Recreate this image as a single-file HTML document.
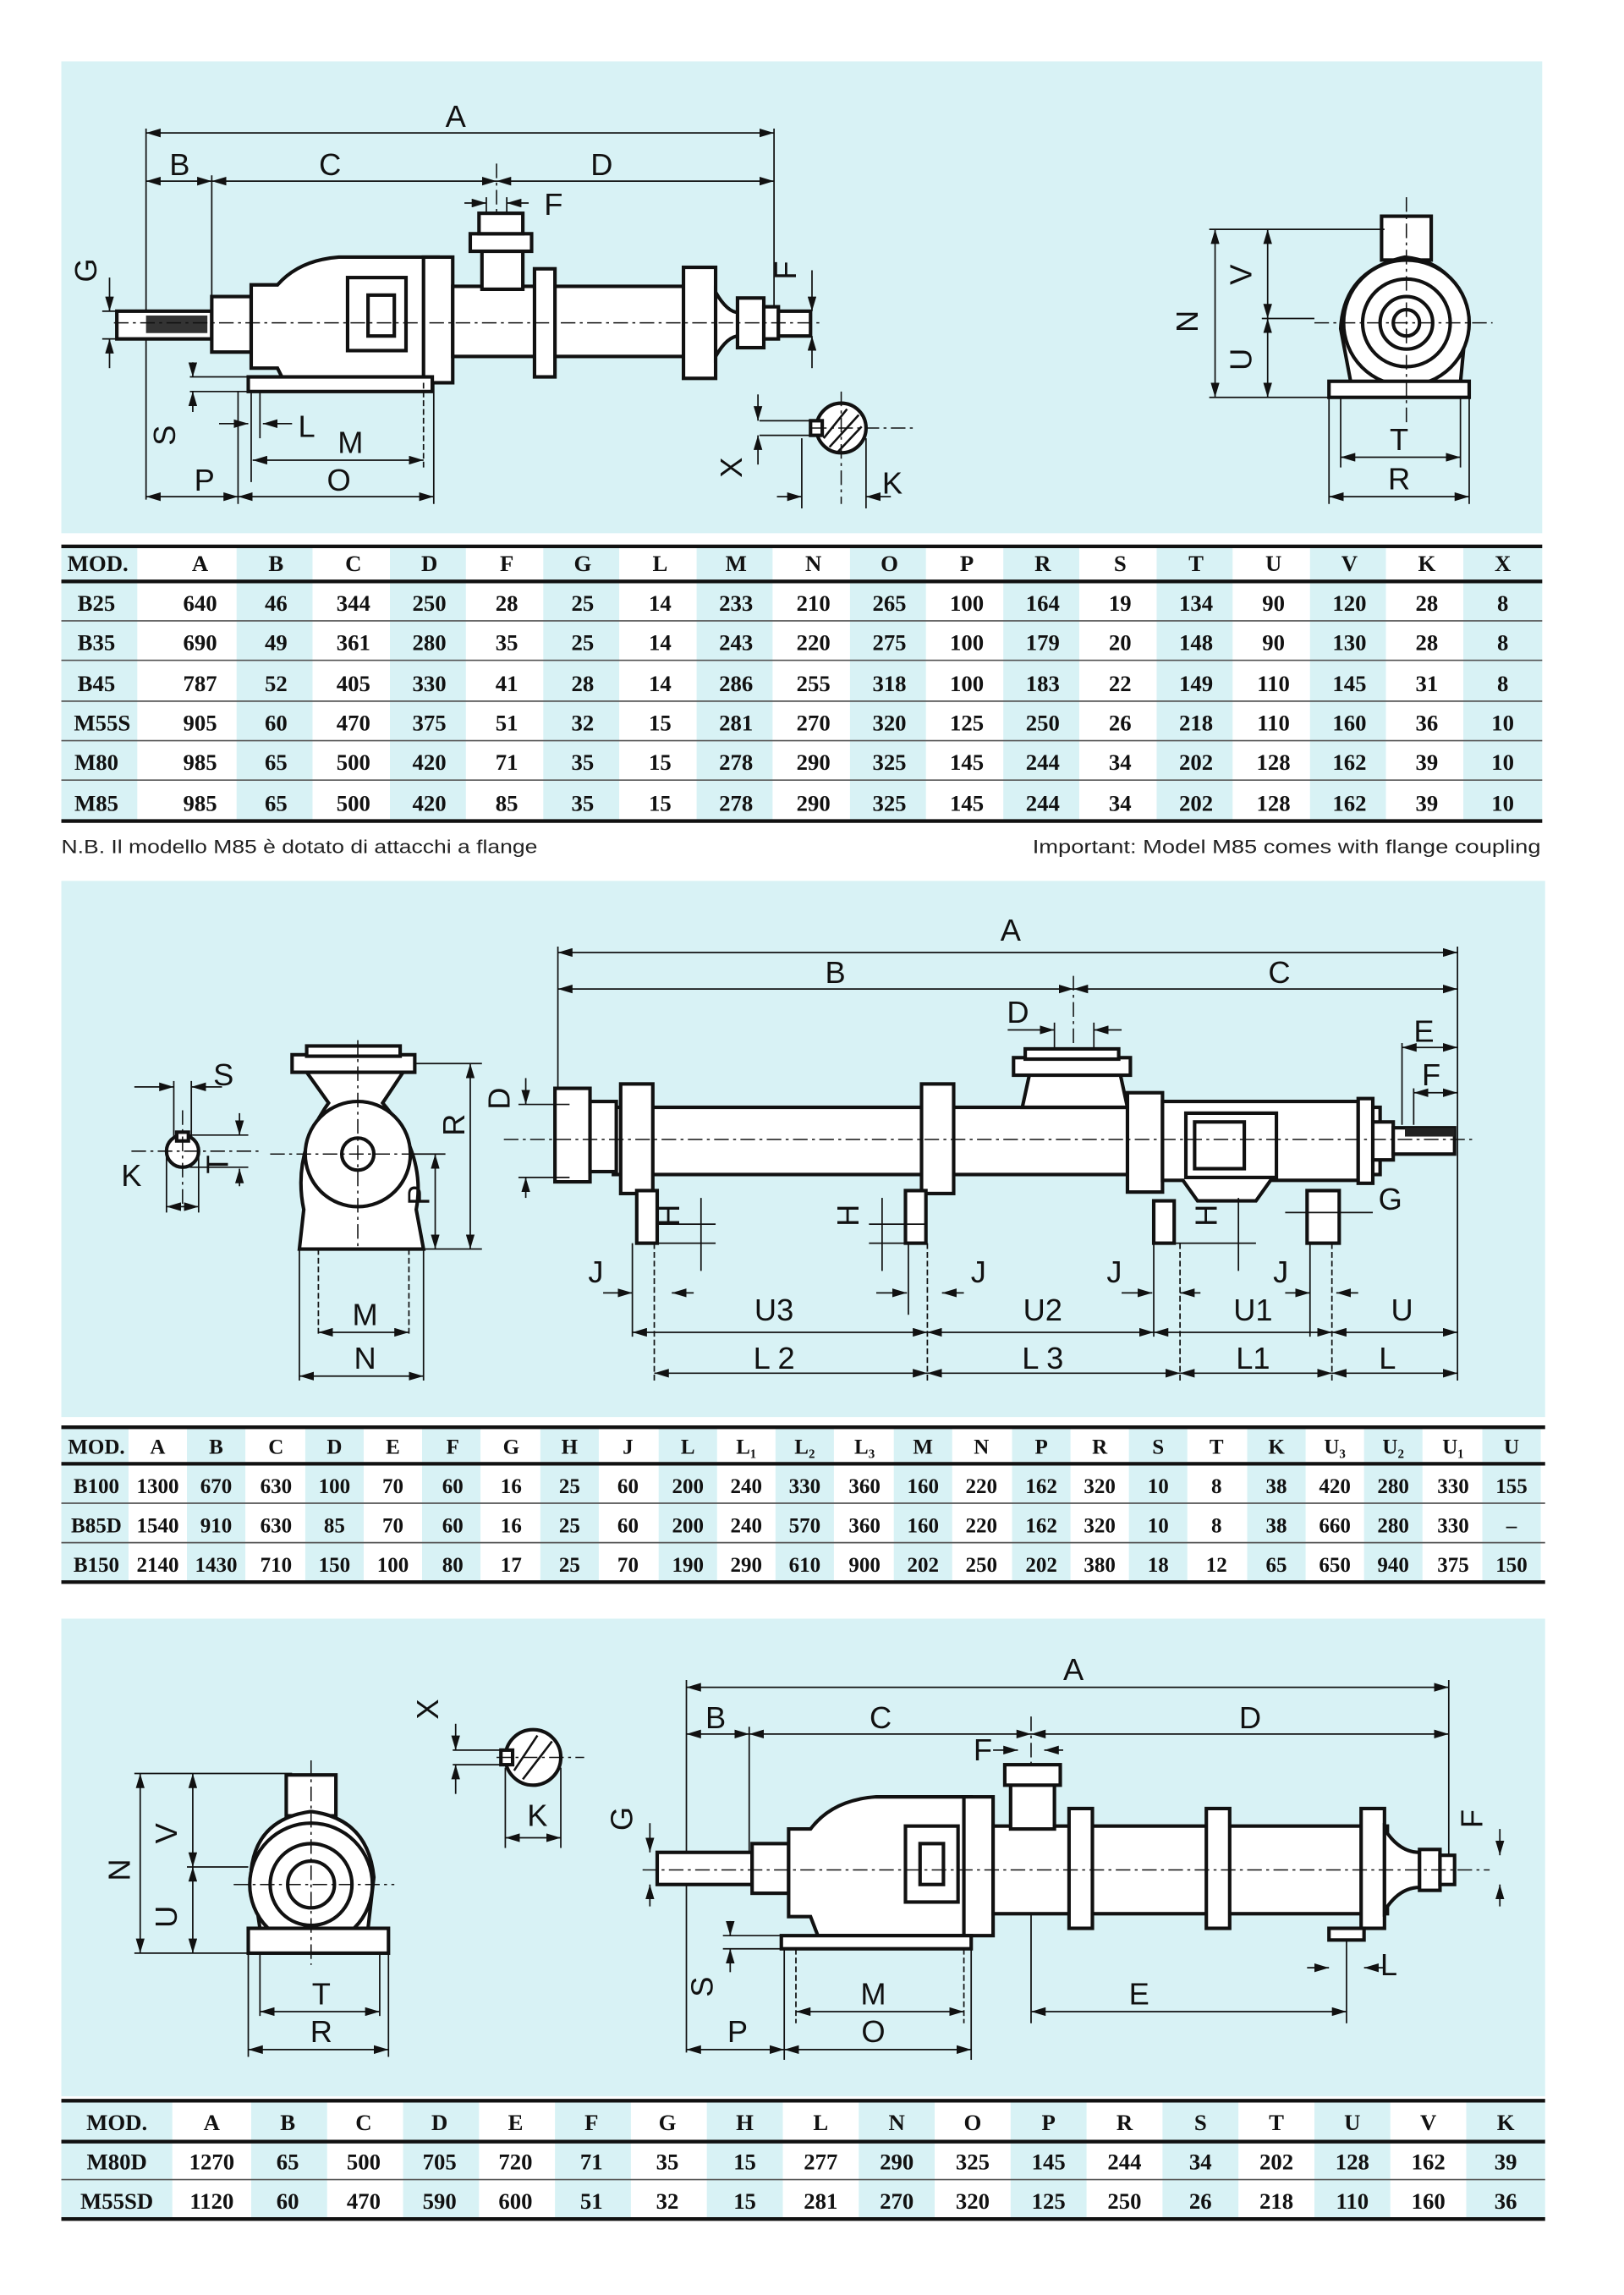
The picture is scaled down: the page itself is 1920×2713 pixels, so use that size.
<!DOCTYPE html>
<html><head><meta charset="utf-8"><style>
html,body{margin:0;padding:0;background:#fff;}
svg{display:block}
.t{font-family:"Liberation Serif",serif;font-weight:bold;font-size:15.5px;fill:#111;text-anchor:middle}
.t2{font-family:"Liberation Serif",serif;font-weight:bold;font-size:14.5px;fill:#111;text-anchor:middle}
.l{font-family:"Liberation Sans",sans-serif;font-size:21px;fill:#111;text-anchor:middle}
.n{font-family:"Liberation Sans",sans-serif;font-size:13px;fill:#222}
.d{stroke:#111;stroke-width:1;fill:none}
.p{stroke:#111;stroke-width:2.4;fill:#fff}
.c{stroke:#111;stroke-width:0.9;fill:none;stroke-dasharray:10 3 2 3}
</style></head><body>
<svg width="1920" height="2713" viewBox="0 0 1112 1571" preserveAspectRatio="none" xmlns="http://www.w3.org/2000/svg">
<defs>
<marker id="a" viewBox="0 0 10 6" refX="10" refY="3" markerWidth="10" markerHeight="6" orient="auto-start-reverse" markerUnits="userSpaceOnUse"><path d="M0,0 L10,3 L0,6z" fill="#111"/></marker>
</defs>
<rect width="1112" height="1571" fill="#fff"/>
<rect x="42" y="42" width="1014" height="323" fill="#d8f2f5"/>
<rect x="42" y="603" width="1016" height="367" fill="#d8f2f5"/>
<rect x="42" y="1108" width="1016" height="327" fill="#d8f2f5"/>

<!-- ===== PANEL 1 ===== -->
<g>
<line class="d" x1="100" y1="91" x2="530" y2="91" marker-start="url(#a)" marker-end="url(#a)"/>
<text class="l" x="312" y="87">A</text>
<line class="d" x1="100" y1="124" x2="145" y2="124" marker-start="url(#a)" marker-end="url(#a)"/>
<line class="d" x1="145" y1="124" x2="340" y2="124" marker-start="url(#a)" marker-end="url(#a)"/>
<line class="d" x1="340" y1="124" x2="530" y2="124" marker-start="url(#a)" marker-end="url(#a)"/>
<text class="l" x="123" y="120">B</text><text class="l" x="226" y="120">C</text><text class="l" x="412" y="120">D</text>
<line class="d" x1="100" y1="88" x2="100" y2="342"/>
<line class="d" x1="145" y1="120" x2="145" y2="240"/>
<line class="d" x1="530" y1="88" x2="530" y2="230"/>
<line class="c" x1="340" y1="112" x2="340" y2="240"/>
<line class="d" x1="318" y1="139" x2="333" y2="139" marker-end="url(#a)"/>
<line class="d" x1="362" y1="139" x2="347" y2="139" marker-end="url(#a)"/>
<line class="d" x1="333" y1="135" x2="333" y2="160"/><line class="d" x1="347" y1="135" x2="347" y2="160"/>
<text class="l" x="379" y="147">F</text>
<rect class="p" x="80" y="213" width="65" height="19"/>
<rect x="100" y="216" width="42" height="12" fill="#333"/>
<rect class="p" x="145" y="203" width="27" height="38"/>
<path class="p" d="M172,195 L190,195 Q205,178 232,176 L300,176 L300,262 L195,262 L190,252 L172,252 Z"/>
<rect class="p" x="290" y="176" width="20" height="86"/>
<rect class="p" x="310" y="196" width="160" height="48"/>
<rect class="p" x="330" y="168" width="28" height="30"/>
<rect class="p" x="322" y="160" width="42" height="12"/>
<rect class="p" x="328" y="146" width="30" height="14"/>
<rect class="p" x="366" y="184" width="14" height="74"/>
<rect class="p" x="468" y="183" width="22" height="76"/>
<path class="p" d="M490,200 Q498,214 506,214 L506,230 Q498,230 490,244 Z"/>
<rect class="p" x="505" y="204" width="18" height="34"/>
<rect class="p" x="523" y="210" width="10" height="22"/>
<rect class="p" x="533" y="213" width="22" height="17"/>
<rect class="p" x="238" y="190" width="40" height="50"/>
<rect class="p" x="252" y="202" width="18" height="28"/>
<rect class="p" x="170" y="258" width="126" height="10"/>
<line class="c" x1="78" y1="221" x2="562" y2="221"/>
<line class="d" x1="75" y1="190" x2="75" y2="213" marker-end="url(#a)"/>
<line class="d" x1="75" y1="252" x2="75" y2="232" marker-end="url(#a)"/>
<line class="d" x1="70" y1="213" x2="82" y2="213"/><line class="d" x1="70" y1="232" x2="82" y2="232"/>
<text class="l" x="66" y="185" transform="rotate(-90 66 185)">G</text>
<line class="d" x1="556" y1="185" x2="556" y2="213" marker-end="url(#a)"/>
<line class="d" x1="556" y1="252" x2="556" y2="230" marker-end="url(#a)"/>
<text class="l" x="545" y="185" transform="rotate(-90 545 185)">F</text>
<line class="d" x1="130" y1="258" x2="170" y2="258"/><line class="d" x1="130" y1="268" x2="170" y2="268"/>
<line class="d" x1="132" y1="248" x2="132" y2="258" marker-end="url(#a)"/>
<line class="d" x1="132" y1="282" x2="132" y2="268" marker-end="url(#a)"/>
<text class="l" x="120" y="298" transform="rotate(-90 120 298)">S</text>
<line class="d" x1="150" y1="290" x2="170" y2="290" marker-end="url(#a)"/>
<line class="d" x1="200" y1="290" x2="180" y2="290" marker-end="url(#a)"/>
<line class="d" x1="172" y1="268" x2="172" y2="330"/><line class="d" x1="178" y1="268" x2="178" y2="300"/>
<text class="l" x="210" y="299">L</text>
<text class="l" x="240" y="310">M</text>
<line class="d" x1="173" y1="315" x2="290" y2="315" marker-start="url(#a)" marker-end="url(#a)"/>
<line class="d" x1="290" y1="262" x2="290" y2="320" stroke-dasharray="4 2"/>
<line class="d" x1="297" y1="262" x2="297" y2="345"/>
<text class="l" x="232" y="336">O</text>
<line class="d" x1="163" y1="340" x2="297" y2="340" marker-start="url(#a)" marker-end="url(#a)"/>
<line class="d" x1="163" y1="268" x2="163" y2="345"/>
<text class="l" x="140" y="336">P</text>
<line class="d" x1="100" y1="340" x2="163" y2="340" marker-start="url(#a)" marker-end="url(#a)"/>
<circle class="p" cx="576" cy="293" r="17"/>
<path d="M564,300 L580,280 M568,306 L588,284 M574,309 L590,292" stroke="#111" stroke-width="1.5"/>
<rect class="p" x="555" y="288" width="8" height="10"/>
<line class="d" x1="520" y1="288" x2="556" y2="288"/><line class="d" x1="520" y1="298" x2="556" y2="298"/>
<line class="c" x1="556" y1="293" x2="625" y2="293"/>
<line class="d" x1="519" y1="270" x2="519" y2="288" marker-end="url(#a)"/>
<line class="d" x1="519" y1="318" x2="519" y2="298" marker-end="url(#a)"/>
<text class="l" x="508" y="320" transform="rotate(-90 508 320)">X</text>
<line class="d" x1="549" y1="300" x2="549" y2="348"/><line class="d" x1="593" y1="300" x2="593" y2="348"/>
<line class="c" x1="576" y1="268" x2="576" y2="345"/>
<line class="d" x1="532" y1="340" x2="549" y2="340" marker-end="url(#a)"/>
<line class="d" x1="610" y1="340" x2="593" y2="340" marker-end="url(#a)"/>
<text class="l" x="611" y="338">K</text>
<rect class="p" x="946" y="148" width="34" height="30"/>
<path class="p" d="M925,262 L918,225 Q920,185 962,176 Q1000,180 1004,220 L1000,262 Z"/>
<circle class="p" cx="963" cy="221" r="43"/>
<circle class="p" cx="963" cy="221" r="30"/>
<circle class="p" cx="963" cy="221" r="18"/>
<circle class="p" cx="963" cy="221" r="9"/>
<rect class="p" x="910" y="261" width="96" height="11"/>
<line class="c" x1="900" y1="221" x2="1022" y2="221"/><line class="c" x1="963" y1="135" x2="963" y2="290"/>
<line class="d" x1="832" y1="157" x2="832" y2="272" marker-start="url(#a)" marker-end="url(#a)"/>
<line class="d" x1="868" y1="157" x2="868" y2="218" marker-start="url(#a)" marker-end="url(#a)"/>
<line class="d" x1="868" y1="218" x2="868" y2="272" marker-start="url(#a)" marker-end="url(#a)"/>
<line class="d" x1="828" y1="157" x2="948" y2="157"/><line class="d" x1="828" y1="272" x2="912" y2="272"/><line class="d" x1="864" y1="218" x2="900" y2="218"/>
<text class="l" x="820" y="220" transform="rotate(-90 820 220)">N</text>
<text class="l" x="857" y="188" transform="rotate(-90 857 188)">V</text>
<text class="l" x="857" y="246" transform="rotate(-90 857 246)">U</text>
<line class="d" x1="918" y1="272" x2="918" y2="320"/><line class="d" x1="1000" y1="272" x2="1000" y2="320"/>
<line class="d" x1="910" y1="272" x2="910" y2="345"/><line class="d" x1="1006" y1="272" x2="1006" y2="345"/>
<text class="l" x="958" y="308">T</text>
<line class="d" x1="918" y1="313" x2="1000" y2="313" marker-start="url(#a)" marker-end="url(#a)"/>
<text class="l" x="958" y="335">R</text>
<line class="d" x1="910" y1="340" x2="1006" y2="340" marker-start="url(#a)" marker-end="url(#a)"/>
</g>

<!-- ===== TABLE 1 ===== -->
<g>
<g fill="#d8f2f5">
<rect x="42" y="375" width="52" height="186"/>
<rect x="162" y="375" width="52" height="186"/><rect x="267" y="375" width="52" height="186"/><rect x="372" y="375" width="52" height="186"/><rect x="477" y="375" width="52" height="186"/><rect x="582" y="375" width="52" height="186"/><rect x="687" y="375" width="52" height="186"/><rect x="792" y="375" width="52" height="186"/><rect x="897" y="375" width="52" height="186"/><rect x="1002" y="375" width="54" height="186"/>
</g>
<line x1="42" y1="374" x2="1056" y2="374" stroke="#111" stroke-width="2.5"/>
<line x1="42" y1="398" x2="1056" y2="398" stroke="#111" stroke-width="2.5"/>
<g stroke="#555" stroke-width="1"><line x1="42" y1="425" x2="1056" y2="425"/><line x1="42" y1="452" x2="1056" y2="452"/><line x1="42" y1="480" x2="1056" y2="480"/><line x1="42" y1="507" x2="1056" y2="507"/><line x1="42" y1="534" x2="1056" y2="534"/></g>
<line x1="42" y1="562" x2="1056" y2="562" stroke="#111" stroke-width="2.5"/>
<g class="t">
<text x="67" y="391">MOD.</text><text x="137" y="391">A</text><text x="189" y="391">B</text><text x="242" y="391">C</text><text x="294" y="391">D</text><text x="347" y="391">F</text><text x="399" y="391">G</text><text x="452" y="391">L</text><text x="504" y="391">M</text><text x="557" y="391">N</text><text x="609" y="391">O</text><text x="662" y="391">P</text><text x="714" y="391">R</text><text x="767" y="391">S</text><text x="819" y="391">T</text><text x="872" y="391">U</text><text x="924" y="391">V</text><text x="977" y="391">K</text><text x="1029" y="391">X</text>
</g>
<g class="t">
<text x="66" y="418">B25</text><text x="137" y="418">640</text><text x="189" y="418">46</text><text x="242" y="418">344</text><text x="294" y="418">250</text><text x="347" y="418">28</text><text x="399" y="418">25</text><text x="452" y="418">14</text><text x="504" y="418">233</text><text x="557" y="418">210</text><text x="609" y="418">265</text><text x="662" y="418">100</text><text x="714" y="418">164</text><text x="767" y="418">19</text><text x="819" y="418">134</text><text x="872" y="418">90</text><text x="924" y="418">120</text><text x="977" y="418">28</text><text x="1029" y="418">8</text>
<text x="66" y="445">B35</text><text x="137" y="445">690</text><text x="189" y="445">49</text><text x="242" y="445">361</text><text x="294" y="445">280</text><text x="347" y="445">35</text><text x="399" y="445">25</text><text x="452" y="445">14</text><text x="504" y="445">243</text><text x="557" y="445">220</text><text x="609" y="445">275</text><text x="662" y="445">100</text><text x="714" y="445">179</text><text x="767" y="445">20</text><text x="819" y="445">148</text><text x="872" y="445">90</text><text x="924" y="445">130</text><text x="977" y="445">28</text><text x="1029" y="445">8</text>
<text x="66" y="473">B45</text><text x="137" y="473">787</text><text x="189" y="473">52</text><text x="242" y="473">405</text><text x="294" y="473">330</text><text x="347" y="473">41</text><text x="399" y="473">28</text><text x="452" y="473">14</text><text x="504" y="473">286</text><text x="557" y="473">255</text><text x="609" y="473">318</text><text x="662" y="473">100</text><text x="714" y="473">183</text><text x="767" y="473">22</text><text x="819" y="473">149</text><text x="872" y="473">110</text><text x="924" y="473">145</text><text x="977" y="473">31</text><text x="1029" y="473">8</text>
<text x="70" y="500">M55S</text><text x="137" y="500">905</text><text x="189" y="500">60</text><text x="242" y="500">470</text><text x="294" y="500">375</text><text x="347" y="500">51</text><text x="399" y="500">32</text><text x="452" y="500">15</text><text x="504" y="500">281</text><text x="557" y="500">270</text><text x="609" y="500">320</text><text x="662" y="500">125</text><text x="714" y="500">250</text><text x="767" y="500">26</text><text x="819" y="500">218</text><text x="872" y="500">110</text><text x="924" y="500">160</text><text x="977" y="500">36</text><text x="1029" y="500">10</text>
<text x="66" y="527">M80</text><text x="137" y="527">985</text><text x="189" y="527">65</text><text x="242" y="527">500</text><text x="294" y="527">420</text><text x="347" y="527">71</text><text x="399" y="527">35</text><text x="452" y="527">15</text><text x="504" y="527">278</text><text x="557" y="527">290</text><text x="609" y="527">325</text><text x="662" y="527">145</text><text x="714" y="527">244</text><text x="767" y="527">34</text><text x="819" y="527">202</text><text x="872" y="527">128</text><text x="924" y="527">162</text><text x="977" y="527">39</text><text x="1029" y="527">10</text>
<text x="66" y="555">M85</text><text x="137" y="555">985</text><text x="189" y="555">65</text><text x="242" y="555">500</text><text x="294" y="555">420</text><text x="347" y="555">85</text><text x="399" y="555">35</text><text x="452" y="555">15</text><text x="504" y="555">278</text><text x="557" y="555">290</text><text x="609" y="555">325</text><text x="662" y="555">145</text><text x="714" y="555">244</text><text x="767" y="555">34</text><text x="819" y="555">202</text><text x="872" y="555">128</text><text x="924" y="555">162</text><text x="977" y="555">39</text><text x="1029" y="555">10</text>
</g>
<text class="n" x="42" y="584" textLength="326" lengthAdjust="spacingAndGlyphs">N.B. Il modello M85 è dotato di attacchi a flange</text>
<text class="n" x="707" y="584" textLength="348" lengthAdjust="spacingAndGlyphs">Important: Model M85 comes with flange coupling</text>
</g>

<!-- ===== PANEL 2 ===== -->
<g>
<line class="d" x1="382" y1="652" x2="998" y2="652" marker-start="url(#a)" marker-end="url(#a)"/>
<text class="l" x="692" y="644">A</text>
<line class="d" x1="382" y1="677" x2="735" y2="677" marker-start="url(#a)" marker-end="url(#a)"/>
<line class="d" x1="735" y1="677" x2="998" y2="677" marker-start="url(#a)" marker-end="url(#a)"/>
<text class="l" x="572" y="673">B</text><text class="l" x="876" y="673">C</text>
<line class="d" x1="382" y1="648" x2="382" y2="745"/><line class="d" x1="998" y1="648" x2="998" y2="945"/>
<line class="c" x1="735" y1="668" x2="735" y2="770"/>
<text class="l" x="697" y="700">D</text>
<line class="d" x1="690" y1="705" x2="722" y2="705" marker-end="url(#a)"/><line class="d" x1="768" y1="705" x2="749" y2="705" marker-end="url(#a)"/>
<line class="d" x1="722" y1="700" x2="722" y2="728"/><line class="d" x1="749" y1="700" x2="749" y2="728"/>
<text class="l" x="975" y="713">E</text>
<line class="d" x1="960" y1="717" x2="998" y2="717" marker-start="url(#a)" marker-end="url(#a)"/>
<text class="l" x="980" y="743">F</text>
<line class="d" x1="968" y1="748" x2="998" y2="748" marker-start="url(#a)" marker-end="url(#a)"/>
<line class="d" x1="960" y1="714" x2="960" y2="770"/><line class="d" x1="968" y1="745" x2="968" y2="770"/>
<rect class="p" x="420" y="758" width="525" height="46"/>
<path class="p" d="M700,758 L705,735 L767,735 L772,758 Z"/>
<rect class="p" x="694" y="724" width="80" height="12"/>
<rect class="p" x="702" y="718" width="64" height="7"/>
<rect class="p" x="380" y="745" width="24" height="64"/>
<rect class="p" x="404" y="754" width="18" height="48"/>
<rect class="p" x="425" y="742" width="22" height="75"/>
<rect class="p" x="631" y="742" width="22" height="75"/>
<rect class="p" x="772" y="748" width="24" height="68"/>
<path class="p" d="M796,754 L930,754 L930,808 L870,808 L860,822 L820,822 L810,808 L796,808Z"/>
<rect class="p" x="812" y="762" width="62" height="44"/>
<rect class="p" x="818" y="768" width="34" height="32"/>
<rect class="p" x="930" y="752" width="10" height="58"/>
<rect class="p" x="940" y="768" width="14" height="26"/>
<rect class="p" x="954" y="772" width="42" height="18"/>
<rect x="962" y="772" width="34" height="6" fill="#222"/>
<rect class="p" x="436" y="815" width="14" height="36"/>
<rect class="p" x="620" y="815" width="14" height="36"/>
<rect class="p" x="790" y="822" width="14" height="29"/>
<rect class="p" x="895" y="815" width="22" height="36"/>
<line class="c" x1="345" y1="780" x2="1010" y2="780"/>
<line class="d" x1="360" y1="738" x2="360" y2="756" marker-end="url(#a)"/>
<line class="d" x1="360" y1="820" x2="360" y2="806" marker-end="url(#a)"/>
<line class="d" x1="355" y1="756" x2="390" y2="756"/><line class="d" x1="355" y1="806" x2="390" y2="806"/>
<text class="l" x="349" y="752" transform="rotate(-90 349 752)">D</text>
<text class="l" x="465" y="832" transform="rotate(-90 465 832)">H</text>
<text class="l" x="588" y="832" transform="rotate(-90 588 832)">H</text>
<text class="l" x="833" y="832" transform="rotate(-90 833 832)">H</text>
<line class="d" x1="480" y1="820" x2="480" y2="870"/><line class="d" x1="604" y1="820" x2="604" y2="870"/><line class="d" x1="848" y1="820" x2="848" y2="870"/>
<line class="d" x1="450" y1="838" x2="490" y2="838"/><line class="d" x1="450" y1="851" x2="490" y2="851"/>
<line class="d" x1="595" y1="838" x2="635" y2="838"/><line class="d" x1="595" y1="851" x2="635" y2="851"/>
<line class="d" x1="800" y1="851" x2="860" y2="851"/>
<text class="l" x="952" y="828">G</text>
<line class="d" x1="880" y1="830" x2="940" y2="830"/>
<text class="l" x="408" y="878">J</text><text class="l" x="670" y="878">J</text><text class="l" x="763" y="878">J</text><text class="l" x="877" y="878">J</text>
<line class="d" x1="413" y1="885" x2="433" y2="885" marker-end="url(#a)"/><line class="d" x1="475" y1="885" x2="460" y2="885" marker-end="url(#a)"/>
<line class="d" x1="600" y1="885" x2="621" y2="885" marker-end="url(#a)"/><line class="d" x1="660" y1="885" x2="645" y2="885" marker-end="url(#a)"/>
<line class="d" x1="768" y1="885" x2="789" y2="885" marker-end="url(#a)"/><line class="d" x1="822" y1="885" x2="808" y2="885" marker-end="url(#a)"/>
<line class="d" x1="880" y1="885" x2="897" y2="885" marker-end="url(#a)"/><line class="d" x1="930" y1="885" x2="915" y2="885" marker-end="url(#a)"/>
<g class="d"><line x1="433" y1="851" x2="433" y2="915"/><line x1="448" y1="851" x2="448" y2="945" stroke-dasharray="4 2"/><line x1="622" y1="851" x2="622" y2="900"/><line x1="635" y1="851" x2="635" y2="945" stroke-dasharray="4 2"/><line x1="790" y1="851" x2="790" y2="915"/><line x1="808" y1="851" x2="808" y2="945" stroke-dasharray="4 2"/><line x1="897" y1="851" x2="897" y2="915"/><line x1="912" y1="851" x2="912" y2="945" stroke-dasharray="4 2"/></g>
<line class="d" x1="433" y1="912" x2="635" y2="912" marker-start="url(#a)" marker-end="url(#a)"/>
<line class="d" x1="635" y1="912" x2="790" y2="912" marker-start="url(#a)" marker-end="url(#a)"/>
<line class="d" x1="790" y1="912" x2="912" y2="912" marker-start="url(#a)" marker-end="url(#a)"/>
<line class="d" x1="912" y1="912" x2="998" y2="912" marker-start="url(#a)" marker-end="url(#a)"/>
<text class="l" x="530" y="904">U3</text><text class="l" x="714" y="904">U2</text><text class="l" x="858" y="904">U1</text><text class="l" x="960" y="904">U</text>
<line class="d" x1="448" y1="940" x2="635" y2="940" marker-start="url(#a)" marker-end="url(#a)"/>
<line class="d" x1="635" y1="940" x2="808" y2="940" marker-start="url(#a)" marker-end="url(#a)"/>
<line class="d" x1="808" y1="940" x2="912" y2="940" marker-start="url(#a)" marker-end="url(#a)"/>
<line class="d" x1="912" y1="940" x2="998" y2="940" marker-start="url(#a)" marker-end="url(#a)"/>
<text class="l" x="530" y="937">L 2</text><text class="l" x="714" y="937">L 3</text><text class="l" x="858" y="937">L1</text><text class="l" x="950" y="937">L</text>
<rect class="p" x="200" y="722" width="84" height="12"/>
<rect class="p" x="210" y="716" width="64" height="7"/>
<path class="p" d="M210,734 L276,734 L262,755 Q292,790 285,828 L290,855 L205,855 L208,828 Q200,790 225,755 Z"/>
<circle class="p" cx="245" cy="790" r="36"/>
<circle class="p" cx="245" cy="790" r="11"/>
<line class="c" x1="185" y1="790" x2="300" y2="790"/><line class="c" x1="245" y1="712" x2="245" y2="855"/>
<line class="d" x1="285" y1="728" x2="330" y2="728"/><line class="d" x1="290" y1="855" x2="330" y2="855"/><line class="d" x1="280" y1="790" x2="305" y2="790"/>
<line class="d" x1="322" y1="728" x2="322" y2="855" marker-start="url(#a)" marker-end="url(#a)"/>
<line class="d" x1="298" y1="790" x2="298" y2="855" marker-start="url(#a)" marker-end="url(#a)"/>
<text class="l" x="318" y="770" transform="rotate(-90 318 770)">R</text>
<text class="l" x="294" y="818" transform="rotate(-90 294 818)">P</text>
<line class="d" x1="205" y1="855" x2="205" y2="945"/><line class="d" x1="290" y1="855" x2="290" y2="945"/>
<line class="d" x1="218" y1="855" x2="218" y2="915" stroke-dasharray="4 2"/><line class="d" x1="280" y1="855" x2="280" y2="915" stroke-dasharray="4 2"/>
<text class="l" x="250" y="907">M</text>
<line class="d" x1="218" y1="912" x2="280" y2="912" marker-start="url(#a)" marker-end="url(#a)"/>
<text class="l" x="250" y="937">N</text>
<line class="d" x1="205" y1="942" x2="290" y2="942" marker-start="url(#a)" marker-end="url(#a)"/>
<circle class="p" cx="125" cy="788" r="11"/>
<rect class="p" x="121" y="775" width="8" height="6"/>
<line class="c" x1="90" y1="788" x2="180" y2="788"/><line class="c" x1="125" y1="760" x2="125" y2="825"/>
<line class="d" x1="92" y1="744" x2="119" y2="744" marker-end="url(#a)"/><line class="d" x1="152" y1="744" x2="131" y2="744" marker-end="url(#a)"/>
<line class="d" x1="119" y1="740" x2="119" y2="780"/><line class="d" x1="131" y1="740" x2="131" y2="780"/>
<text class="l" x="153" y="743">S</text>
<line class="d" x1="164" y1="762" x2="164" y2="777" marker-end="url(#a)"/><line class="d" x1="164" y1="812" x2="164" y2="800" marker-end="url(#a)"/>
<line class="d" x1="130" y1="777" x2="170" y2="777"/><line class="d" x1="130" y1="799" x2="170" y2="799"/>
<text class="l" x="156" y="797" transform="rotate(-90 156 797)">T</text>
<line class="d" x1="114" y1="788" x2="114" y2="830"/><line class="d" x1="136" y1="788" x2="136" y2="830"/>
<line class="d" x1="114" y1="826" x2="136" y2="826" marker-start="url(#a)" marker-end="url(#a)"/>
<text class="l" x="90" y="812">K</text>
</g>

<!-- ===== TABLE 2 ===== -->
<g>
<g fill="#d8f2f5">
<rect x="42" y="978" width="46" height="104"/>
<rect x="128" y="978" width="40" height="104"/><rect x="209" y="978" width="40" height="104"/><rect x="289" y="978" width="40" height="104"/><rect x="370" y="978" width="40" height="104"/><rect x="451" y="978" width="40" height="104"/><rect x="531" y="978" width="40" height="104"/><rect x="612" y="978" width="40" height="104"/><rect x="693" y="978" width="40" height="104"/><rect x="773" y="978" width="40" height="104"/><rect x="854" y="978" width="40" height="104"/><rect x="934" y="978" width="40" height="104"/><rect x="1015" y="978" width="40" height="104"/>
</g>
<line x1="42" y1="977" x2="1058" y2="977" stroke="#111" stroke-width="2.5"/>
<line x1="42" y1="1002" x2="1058" y2="1002" stroke="#111" stroke-width="2.5"/>
<g stroke="#555"><line x1="42" y1="1029" x2="1058" y2="1029"/><line x1="42" y1="1056" x2="1058" y2="1056"/></g>
<line x1="42" y1="1083" x2="1058" y2="1083" stroke="#111" stroke-width="2.5"/>
<g class="t2">
<text x="66" y="995">MOD.</text><text x="108" y="995">A</text><text x="148" y="995">B</text><text x="189" y="995">C</text><text x="229" y="995">D</text><text x="269" y="995">E</text><text x="310" y="995">F</text><text x="350" y="995">G</text><text x="390" y="995">H</text><text x="430" y="995">J</text><text x="471" y="995">L</text><text x="511" y="995">L₁</text><text x="551" y="995">L₂</text><text x="592" y="995">L₃</text><text x="632" y="995">M</text><text x="672" y="995">N</text><text x="713" y="995">P</text><text x="753" y="995">R</text><text x="793" y="995">S</text><text x="833" y="995">T</text><text x="874" y="995">K</text><text x="914" y="995">U₃</text><text x="954" y="995">U₂</text><text x="995" y="995">U₁</text><text x="1035" y="995">U</text>
<text x="66" y="1022">B100</text><text x="108" y="1022">1300</text><text x="148" y="1022">670</text><text x="189" y="1022">630</text><text x="229" y="1022">100</text><text x="269" y="1022">70</text><text x="310" y="1022">60</text><text x="350" y="1022">16</text><text x="390" y="1022">25</text><text x="430" y="1022">60</text><text x="471" y="1022">200</text><text x="511" y="1022">240</text><text x="551" y="1022">330</text><text x="592" y="1022">360</text><text x="632" y="1022">160</text><text x="672" y="1022">220</text><text x="713" y="1022">162</text><text x="753" y="1022">320</text><text x="793" y="1022">10</text><text x="833" y="1022">8</text><text x="874" y="1022">38</text><text x="914" y="1022">420</text><text x="954" y="1022">280</text><text x="995" y="1022">330</text><text x="1035" y="1022">155</text>
<text x="66" y="1049">B85D</text><text x="108" y="1049">1540</text><text x="148" y="1049">910</text><text x="189" y="1049">630</text><text x="229" y="1049">85</text><text x="269" y="1049">70</text><text x="310" y="1049">60</text><text x="350" y="1049">16</text><text x="390" y="1049">25</text><text x="430" y="1049">60</text><text x="471" y="1049">200</text><text x="511" y="1049">240</text><text x="551" y="1049">570</text><text x="592" y="1049">360</text><text x="632" y="1049">160</text><text x="672" y="1049">220</text><text x="713" y="1049">162</text><text x="753" y="1049">320</text><text x="793" y="1049">10</text><text x="833" y="1049">8</text><text x="874" y="1049">38</text><text x="914" y="1049">660</text><text x="954" y="1049">280</text><text x="995" y="1049">330</text><text x="1035" y="1049">–</text>
<text x="66" y="1076">B150</text><text x="108" y="1076">2140</text><text x="148" y="1076">1430</text><text x="189" y="1076">710</text><text x="229" y="1076">150</text><text x="269" y="1076">100</text><text x="310" y="1076">80</text><text x="350" y="1076">17</text><text x="390" y="1076">25</text><text x="430" y="1076">70</text><text x="471" y="1076">190</text><text x="511" y="1076">290</text><text x="551" y="1076">610</text><text x="592" y="1076">900</text><text x="632" y="1076">202</text><text x="672" y="1076">250</text><text x="713" y="1076">202</text><text x="753" y="1076">380</text><text x="793" y="1076">18</text><text x="833" y="1076">12</text><text x="874" y="1076">65</text><text x="914" y="1076">650</text><text x="954" y="1076">940</text><text x="995" y="1076">375</text><text x="1035" y="1076">150</text>
</g>
</g>

<!-- ===== PANEL 3 ===== -->
<g>
<line class="d" x1="470" y1="1155" x2="992" y2="1155" marker-start="url(#a)" marker-end="url(#a)"/>
<text class="l" x="735" y="1150">A</text>
<line class="d" x1="470" y1="1187" x2="513" y2="1187" marker-start="url(#a)" marker-end="url(#a)"/>
<line class="d" x1="513" y1="1187" x2="706" y2="1187" marker-start="url(#a)" marker-end="url(#a)"/>
<line class="d" x1="706" y1="1187" x2="992" y2="1187" marker-start="url(#a)" marker-end="url(#a)"/>
<text class="l" x="490" y="1183">B</text><text class="l" x="603" y="1183">C</text><text class="l" x="856" y="1183">D</text>
<line class="d" x1="470" y1="1150" x2="470" y2="1405"/><line class="d" x1="513" y1="1182" x2="513" y2="1270"/><line class="d" x1="992" y1="1150" x2="992" y2="1275"/>
<line class="c" x1="706" y1="1175" x2="706" y2="1290"/>
<text class="l" x="673" y="1205">F</text>
<line class="d" x1="680" y1="1198" x2="697" y2="1198" marker-end="url(#a)"/><line class="d" x1="728" y1="1198" x2="715" y2="1198" marker-end="url(#a)"/>
<rect class="p" x="450" y="1268" width="65" height="22"/>
<rect class="p" x="515" y="1262" width="25" height="34"/>
<path class="p" d="M540,1252 L555,1252 Q570,1232 600,1230 L665,1230 L665,1325 L560,1325 L555,1312 L540,1312Z"/>
<rect class="p" x="620" y="1250" width="36" height="52"/><rect class="p" x="630" y="1262" width="16" height="28"/>
<rect class="p" x="660" y="1230" width="20" height="95"/>
<rect class="p" x="680" y="1250" width="270" height="60"/>
<rect class="p" x="692" y="1220" width="30" height="32"/>
<rect class="p" x="688" y="1208" width="38" height="14"/>
<rect class="p" x="732" y="1238" width="16" height="82"/>
<rect class="p" x="826" y="1238" width="16" height="82"/>
<rect class="p" x="932" y="1238" width="16" height="82"/>
<path class="p" d="M948,1252 Q958,1268 972,1268 L972,1292 Q958,1292 948,1308Z"/>
<rect class="p" x="972" y="1266" width="14" height="28"/>
<rect class="p" x="986" y="1270" width="10" height="20"/>
<rect class="p" x="535" y="1325" width="130" height="9"/>
<rect class="p" x="910" y="1320" width="24" height="8"/>
<line class="c" x1="440" y1="1280" x2="1020" y2="1280"/>
<line class="d" x1="445" y1="1248" x2="445" y2="1268" marker-end="url(#a)"/>
<line class="d" x1="445" y1="1305" x2="445" y2="1290" marker-end="url(#a)"/>
<text class="l" x="433" y="1245" transform="rotate(-90 433 1245)">G</text>
<line class="d" x1="1027" y1="1252" x2="1027" y2="1270" marker-end="url(#a)"/>
<line class="d" x1="1027" y1="1305" x2="1027" y2="1290" marker-end="url(#a)"/>
<text class="l" x="1015" y="1245" transform="rotate(-90 1015 1245)">F</text>
<line class="d" x1="495" y1="1325" x2="540" y2="1325"/><line class="d" x1="495" y1="1334" x2="540" y2="1334"/>
<line class="d" x1="500" y1="1315" x2="500" y2="1325" marker-end="url(#a)"/><line class="d" x1="500" y1="1350" x2="500" y2="1334" marker-end="url(#a)"/>
<text class="l" x="488" y="1360" transform="rotate(-90 488 1360)">S</text>
<line class="d" x1="545" y1="1334" x2="545" y2="1385" stroke-dasharray="4 2"/><line class="d" x1="660" y1="1334" x2="660" y2="1385" stroke-dasharray="4 2"/>
<line class="d" x1="537" y1="1334" x2="537" y2="1410"/><line class="d" x1="665" y1="1334" x2="665" y2="1410"/>
<text class="l" x="598" y="1372">M</text>
<line class="d" x1="545" y1="1377" x2="660" y2="1377" marker-start="url(#a)" marker-end="url(#a)"/>
<text class="l" x="598" y="1398">O</text>
<line class="d" x1="537" y1="1403" x2="665" y2="1403" marker-start="url(#a)" marker-end="url(#a)"/>
<text class="l" x="505" y="1398">P</text>
<line class="d" x1="470" y1="1403" x2="537" y2="1403" marker-start="url(#a)" marker-end="url(#a)"/>
<line class="d" x1="706" y1="1310" x2="706" y2="1385"/><line class="d" x1="922" y1="1328" x2="922" y2="1385"/>
<text class="l" x="780" y="1372">E</text>
<line class="d" x1="706" y1="1377" x2="922" y2="1377" marker-start="url(#a)" marker-end="url(#a)"/>
<text class="l" x="951" y="1352">L</text>
<line class="d" x1="895" y1="1347" x2="910" y2="1347" marker-end="url(#a)"/><line class="d" x1="948" y1="1347" x2="934" y2="1347" marker-end="url(#a)"/>
<circle class="p" cx="365" cy="1203" r="19"/>
<path d="M352,1212 L368,1188 M358,1218 L378,1192" stroke="#111" stroke-width="1.5"/>
<rect class="p" x="343" y="1198" width="8" height="10"/>
<line class="d" x1="310" y1="1198" x2="345" y2="1198"/><line class="d" x1="310" y1="1208" x2="345" y2="1208"/>
<line class="c" x1="340" y1="1203" x2="400" y2="1203"/>
<line class="d" x1="312" y1="1180" x2="312" y2="1198" marker-end="url(#a)"/><line class="d" x1="312" y1="1228" x2="312" y2="1208" marker-end="url(#a)"/>
<text class="l" x="300" y="1170" transform="rotate(-90 300 1170)">X</text>
<line class="d" x1="346" y1="1210" x2="346" y2="1265"/><line class="d" x1="384" y1="1210" x2="384" y2="1265"/>
<line class="d" x1="346" y1="1258" x2="384" y2="1258" marker-start="url(#a)" marker-end="url(#a)"/>
<text class="l" x="368" y="1250">K</text>
<rect class="p" x="196" y="1215" width="34" height="28"/>
<path class="p" d="M178,1320 L172,1280 Q176,1245 213,1240 Q252,1245 256,1285 L252,1320Z"/>
<circle class="p" cx="213" cy="1290" r="42"/>
<circle class="p" cx="213" cy="1290" r="28"/>
<circle class="p" cx="213" cy="1290" r="16"/>
<rect class="p" x="170" y="1320" width="96" height="17"/>
<line class="c" x1="160" y1="1290" x2="270" y2="1290"/><line class="c" x1="213" y1="1205" x2="213" y2="1345"/>
<line class="d" x1="92" y1="1214" x2="200" y2="1214"/><line class="d" x1="92" y1="1337" x2="172" y2="1337"/><line class="d" x1="128" y1="1278" x2="170" y2="1278"/>
<line class="d" x1="96" y1="1214" x2="96" y2="1337" marker-start="url(#a)" marker-end="url(#a)"/>
<line class="d" x1="132" y1="1214" x2="132" y2="1278" marker-start="url(#a)" marker-end="url(#a)"/>
<line class="d" x1="132" y1="1278" x2="132" y2="1337" marker-start="url(#a)" marker-end="url(#a)"/>
<text class="l" x="89" y="1280" transform="rotate(-90 89 1280)">N</text>
<text class="l" x="121" y="1255" transform="rotate(-90 121 1255)">V</text>
<text class="l" x="121" y="1312" transform="rotate(-90 121 1312)">U</text>
<line class="d" x1="178" y1="1337" x2="178" y2="1380"/><line class="d" x1="260" y1="1337" x2="260" y2="1380"/>
<line class="d" x1="170" y1="1337" x2="170" y2="1408"/><line class="d" x1="266" y1="1337" x2="266" y2="1408"/>
<text class="l" x="220" y="1372">T</text>
<line class="d" x1="178" y1="1377" x2="260" y2="1377" marker-start="url(#a)" marker-end="url(#a)"/>
<text class="l" x="220" y="1398">R</text>
<line class="d" x1="170" y1="1403" x2="266" y2="1403" marker-start="url(#a)" marker-end="url(#a)"/>
</g>

<!-- ===== TABLE 3 ===== -->
<g>
<g fill="#d8f2f5">
<rect x="42" y="1439" width="76" height="80"/><rect x="172" y="1439" width="52" height="80"/><rect x="276" y="1439" width="52" height="80"/><rect x="380" y="1439" width="52" height="80"/><rect x="484" y="1439" width="52" height="80"/><rect x="588" y="1439" width="52" height="80"/><rect x="692" y="1439" width="52" height="80"/><rect x="796" y="1439" width="52" height="80"/><rect x="900" y="1439" width="52" height="80"/><rect x="1004" y="1439" width="54" height="80"/>
</g>
<line x1="42" y1="1438" x2="1058" y2="1438" stroke="#111" stroke-width="2.5"/>
<line x1="42" y1="1466" x2="1058" y2="1466" stroke="#111" stroke-width="2.5"/>
<line x1="42" y1="1492" x2="1058" y2="1492" stroke="#555"/>
<line x1="42" y1="1519" x2="1058" y2="1519" stroke="#111" stroke-width="2.5"/>
<g class="t">
<text x="80" y="1458">MOD.</text><text x="145" y="1458">A</text><text x="197" y="1458">B</text><text x="249" y="1458">C</text><text x="301" y="1458">D</text><text x="353" y="1458">E</text><text x="405" y="1458">F</text><text x="457" y="1458">G</text><text x="510" y="1458">H</text><text x="562" y="1458">L</text><text x="614" y="1458">N</text><text x="666" y="1458">O</text><text x="718" y="1458">P</text><text x="770" y="1458">R</text><text x="822" y="1458">S</text><text x="874" y="1458">T</text><text x="926" y="1458">U</text><text x="978" y="1458">V</text><text x="1031" y="1458">K</text>
<text x="80" y="1485">M80D</text><text x="145" y="1485">1270</text><text x="197" y="1485">65</text><text x="249" y="1485">500</text><text x="301" y="1485">705</text><text x="353" y="1485">720</text><text x="405" y="1485">71</text><text x="457" y="1485">35</text><text x="510" y="1485">15</text><text x="562" y="1485">277</text><text x="614" y="1485">290</text><text x="666" y="1485">325</text><text x="718" y="1485">145</text><text x="770" y="1485">244</text><text x="822" y="1485">34</text><text x="874" y="1485">202</text><text x="926" y="1485">128</text><text x="978" y="1485">162</text><text x="1031" y="1485">39</text>
<text x="80" y="1512">M55SD</text><text x="145" y="1512">1120</text><text x="197" y="1512">60</text><text x="249" y="1512">470</text><text x="301" y="1512">590</text><text x="353" y="1512">600</text><text x="405" y="1512">51</text><text x="457" y="1512">32</text><text x="510" y="1512">15</text><text x="562" y="1512">281</text><text x="614" y="1512">270</text><text x="666" y="1512">320</text><text x="718" y="1512">125</text><text x="770" y="1512">250</text><text x="822" y="1512">26</text><text x="874" y="1512">218</text><text x="926" y="1512">110</text><text x="978" y="1512">160</text><text x="1031" y="1512">36</text>
</g>
</g>
</svg>
</body></html>
